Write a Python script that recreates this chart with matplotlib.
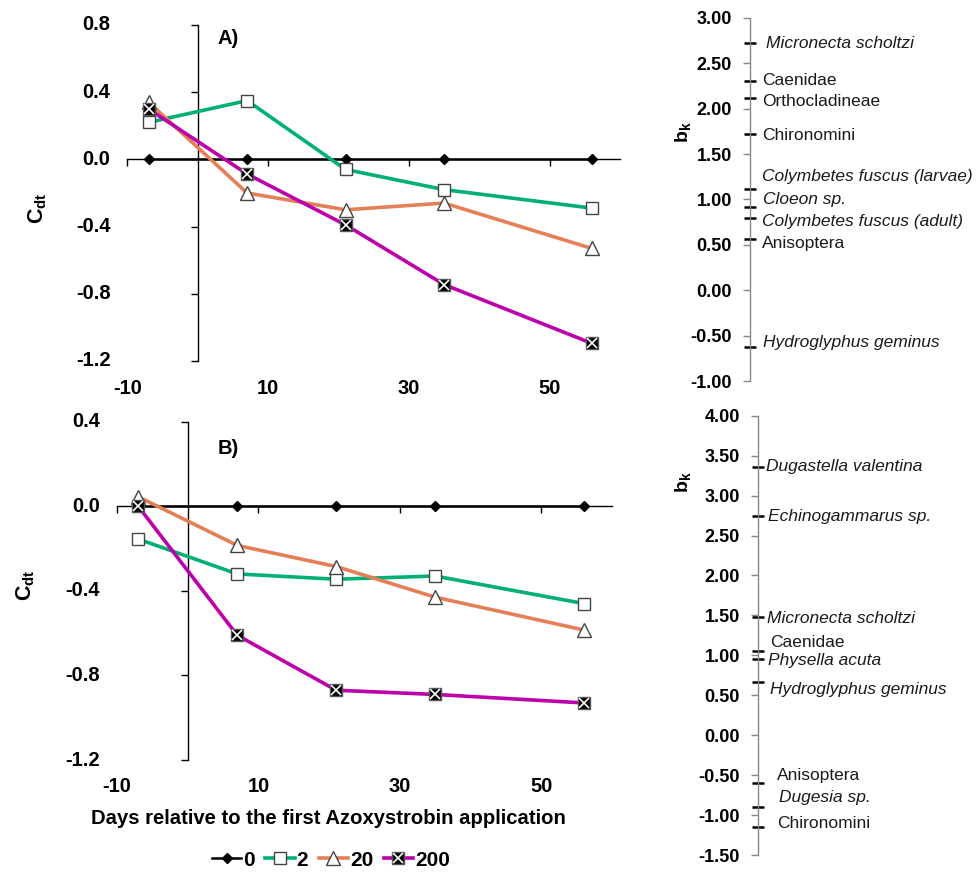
import numpy as np
import matplotlib
matplotlib.use("Agg")
import matplotlib.pyplot as plt
from matplotlib.legend_handler import HandlerTuple

plt.rcParams['font.family'] = ['Liberation Sans', 'DejaVu Sans']
plt.rcParams['axes.unicode_minus'] = False
plt.rcParams['mathtext.fontset'] = 'custom'
plt.rcParams['mathtext.rm'] = 'Liberation Sans'
plt.rcParams['mathtext.bf'] = 'Liberation Sans:bold'
plt.rcParams['mathtext.it'] = 'Liberation Sans:italic'

# ---- data ----
days = [-7, 7, 21, 35, 56]
conc_labels = ['0', '2', '20', '200']

a_0 = [0, 0, 0, 0, 0]
a_2 = [0.22, 0.35, -0.06, -0.18, -0.29]
a_20 = [0.34, -0.20, -0.30, -0.26, -0.53]
a_200 = [0.30, -0.087, -0.39, -0.745, -1.095]

b_0 = [0, 0, 0, 0, 0]
b_2 = [-0.155, -0.32, -0.345, -0.33, -0.46]
b_20 = [0.045, -0.185, -0.285, -0.43, -0.585]
b_200 = [0.0, -0.61, -0.87, -0.89, -0.93]

x_ticks = [-10, 10, 30, 50]

# species weights (bk) for the right-hand axes
spA_names = ['Micronecta scholtzi', 'Caenidae', 'Orthocladineae', 'Chironomini',
             'Colymbetes fuscus (larvae)', 'Cloeon sp.', 'Colymbetes fuscus (adult)',
             'Anisoptera', 'Hydroglyphus geminus']
spA_bk = [2.72, 2.31, 2.12, 1.72, 1.12, 0.92, 0.80, 0.56, -0.63]
spA_italic = [True, False, False, False, True, True, True, False, True]

spB_names = ['Dugastella valentina', 'Echinogammarus sp.', 'Micronecta scholtzi',
             'Caenidae', 'Physella acuta', 'Hydroglyphus geminus', 'Anisoptera',
             'Dugesia sp.', 'Chironomini']
spB_bk = [3.36, 2.74, 1.48, 1.06, 0.96, 0.66, -0.595, -0.90, -1.15]
spB_italic = [True, True, True, False, True, True, False, True, False]

# label placement (to keep names from overlapping): y of text, x offset in px
spA_text_y = [2.72, 2.31, 2.08, 1.70, 1.25, 1.00, 0.76, 0.52, -0.58]
spA_dx = [16, 12, 12, 12, 12, 13, 12, 12, 13]
spB_text_y = [3.36, 2.74, 1.46, 1.16, 0.93, 0.57, -0.51, -0.78, -1.10]
spB_dx = [8, 10, 9, 12, 10, 12, 19, 21, 19]

GREEN = '#00B070'
ORANGE = '#E47F58'
MAGENTA = '#BC00AC'
W, H = 978, 873

fig = plt.figure(figsize=(W / 100, H / 100), dpi=100)


def fig_box(x0, y0, x1, y1):
    # pixel box (top-left origin) -> figure fraction
    return [x0 / W, 1 - y1 / H, (x1 - x0) / W, (y1 - y0) / H]


def panel(box, s0, s2, s20, s200, ylo, yhi, letter, letter_xy):
    ax = fig.add_axes(fig_box(*box))
    ax.set_xlim(-10, 60)
    ax.set_ylim(ylo, yhi)
    for s in ['top', 'right']:
        ax.spines[s].set_visible(False)
    ax.spines['left'].set_position(('data', 0))
    ax.spines['bottom'].set_position(('data', 0))
    ax.spines['left'].set_linewidth(1.0)
    ax.spines['bottom'].set_linewidth(1.0)
    yt = np.round(np.arange(ylo, yhi + 0.01, 0.4), 1)
    ax.set_xticks(x_ticks)
    ax.set_yticks(yt)
    ax.tick_params(direction='out', length=5, width=1.0,
                   labelbottom=False, labelleft=False)

    for y in yt:
        ax.annotate(f'{y:.1f}', xy=(0, y), xycoords=ax.get_yaxis_transform(),
                    xytext=(-17, 0), textcoords='offset pixels',
                    ha='right', va='center', fontsize=14.5, fontweight='bold')
    for x in x_ticks:
        ax.annotate(f'{x}', xy=(x, 0), xycoords=ax.get_xaxis_transform(),
                    xytext=(0, -27), textcoords='offset pixels',
                    ha='center', va='center', fontsize=14.5, fontweight='bold')

    h0, = ax.plot(days, s0, color='black', lw=1.8, marker='D', ms=5,
                  mfc='black', mec='black', clip_on=False, zorder=3)
    h2, = ax.plot(days, s2, color=GREEN, lw=2.6, marker='s', ms=9,
                  mfc='white', mec='#444444', mew=1.0, clip_on=False, zorder=4)
    h20, = ax.plot(days, s20, color=ORANGE, lw=2.6, marker='^', ms=10,
                   mfc='white', mec='#444444', mew=1.0, clip_on=False, zorder=5)
    h200, = ax.plot(days, s200, color=MAGENTA, lw=2.6, marker='s', ms=9,
                    mfc='black', mec='#555555', mew=1.0, clip_on=False, zorder=6)
    hx, = ax.plot(days, s200, ls='none', marker='x', ms=6.5, mec='white',
                  mew=1.2, clip_on=False, zorder=7)

    fig.text(letter_xy[0] / W, 1 - letter_xy[1] / H, letter, ha='center',
             va='center', fontsize=14.5, fontweight='bold')
    return ax, [h0, h2, h20, (h200, hx)]


axA, handles = panel((127.5, 25, 620, 361), a_0, a_2, a_20, a_200, -1.2, 0.8,
                     'A)', (228, 38))
axB, _ = panel((117, 421.7, 612, 760), b_0, b_2, b_20, b_200, -1.2, 0.4,
               'B)', (228, 449))

fig.text(38 / W, 1 - 208 / H, r'$\mathbf{C_{dt}}$', rotation=90,
         ha='center', va='center', fontsize=15.5)
fig.text(26 / W, 1 - 585 / H, r'$\mathbf{C_{dt}}$', rotation=90,
         ha='center', va='center', fontsize=15.5)

fig.text(328 / W, 1 - 819 / H,
         'Days relative to the first Azoxystrobin application',
         ha='center', va='center', fontsize=14.6, fontweight='bold')

fig.legend(handles, conc_labels, loc='center',
           bbox_to_anchor=(331 / W, 1 - 860 / H), ncol=4, frameon=False,
           prop={'size': 15, 'weight': 'bold'}, handlelength=1.4,
           handletextpad=0.1, columnspacing=0.5,
           handler_map={tuple: HandlerTuple(ndivide=1)})


def bk_axis(box, ylo, yhi, names, bk, italic, text_y, dx, label_xy):
    ax = fig.add_axes(fig_box(*box))
    ax.set_xlim(0, 1)
    ax.set_ylim(ylo, yhi)
    ax.patch.set_visible(False)
    for s in ['top', 'right', 'bottom']:
        ax.spines[s].set_visible(False)
    ax.spines['left'].set_color('#888888')
    ax.spines['left'].set_linewidth(1.0)
    ax.set_xticks([])
    ax.set_yticks(np.arange(ylo, yhi + 0.01, 0.5))
    ax.set_yticklabels([f'{v:.2f}' for v in np.arange(ylo, yhi + 0.01, 0.5)])
    ax.tick_params(axis='y', direction='out', length=5, width=1.0,
                   color='#888888', pad=8, labelsize=13)
    for t in ax.get_yticklabels():
        t.set_fontweight('bold')
    ax.plot([0] * len(bk), bk, ls='none', marker='_', ms=8, mew=1.8,
            color='black', clip_on=False)
    for name, y, it, ddx in zip(names, text_y, italic, dx):
        ax.annotate(name, xy=(0, y), xytext=(ddx, 0),
                    textcoords='offset pixels', ha='left', va='center',
                    fontsize=12.5, style='italic' if it else 'normal',
                    color='#1a1a1a')
    fig.text(label_xy[0] / W, 1 - label_xy[1] / H, r'$\mathbf{b_k}$',
             rotation=90, ha='center', va='center', fontsize=14)
    return ax


bk_axis((750, 18, 960, 381), -1.0, 3.0, spA_names, spA_bk, spA_italic,
        spA_text_y, spA_dx, (683, 132))
bk_axis((758, 415.7, 960, 855), -1.5, 4.0, spB_names, spB_bk, spB_italic,
        spB_text_y, spB_dx, (683, 482))

fig.savefig('out.png', dpi=100)
